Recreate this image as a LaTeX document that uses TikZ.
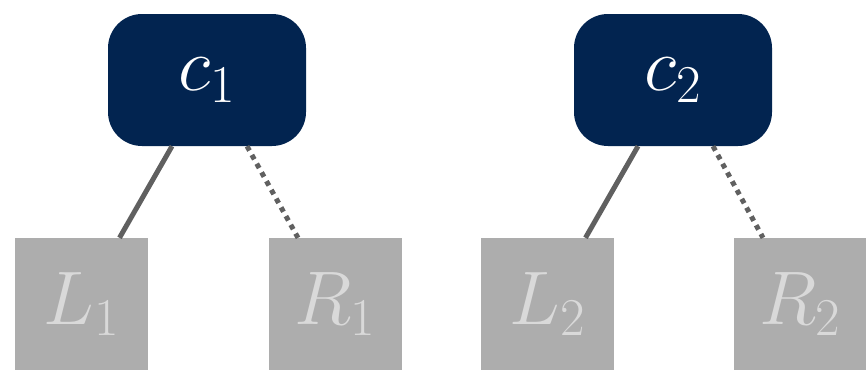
\RequirePackage{fix-cm}
\documentclass[tikz,border=0pt]{standalone}
\definecolor{navy}{HTML}{022450}
\definecolor{leafgray}{HTML}{ADADAD}
\definecolor{leaftext}{HTML}{D9D9D9}
\definecolor{edgegray}{HTML}{606060}
\newcommand{\var}[2]{$#1_{#2}$}
\begin{document}
\begin{tikzpicture}[
        x=1pt, y=-1pt,
        every node/.style={inner sep=0pt, font=\fontsize{76}{78}\selectfont},
        root/.style={fill=navy, text=white, rounded corners=34pt, minimum width=198pt, minimum height=132pt},
        leaf/.style={fill=leafgray, text=leaftext, minimum width=133pt, minimum height=132pt},
        kept/.style={draw=edgegray, line width=5pt},
        cut/.style={draw=edgegray, line width=5pt, dash pattern=on 5pt off 5pt},
    ]
    \useasboundingbox (0,0) rectangle (866,370);
    \node[root](c1) at (207,80){\var{c}{1}};
    \node[root](c2) at (673,80){\var{c}{2}};
    \node[leaf](L1) at (81.5,304){\var{L}{1}};
    \node[leaf](R1) at (335,304){\var{R}{1}};
    \node[leaf](L2) at (547.5,304){\var{L}{2}};
    \node[leaf](R2) at (800,304){\var{R}{2}};
    \draw[kept] ([xshift=-35pt]c1.south) -- ([xshift=38pt]L1.north);
    \draw[cut] ([xshift=40pt]c1.south) -- ([xshift=-37pt]R1.north);
    \draw[kept] ([xshift=-35pt]c2.south) -- ([xshift=38pt]L2.north);
    \draw[cut] ([xshift=40pt]c2.south) -- ([xshift=-37pt]R2.north);
\end{tikzpicture}
\end{document}
